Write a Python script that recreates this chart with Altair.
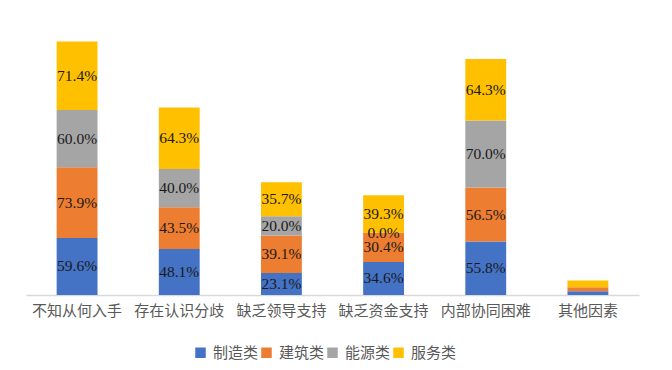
import altair as alt
import pandas as pd

categories = ["不知从何入手", "存在认识分歧", "缺乏领导支持", "缺乏资金支持", "内部协同困难", "其他因素"]
series = ["制造类", "建筑类", "能源类", "服务类"]
colors = ["#4472C4", "#ED7D31", "#A5A5A5", "#FFC000"]
manufacturing = [59.6, 48.1, 23.1, 34.6, 55.8, 3.8]
construction = [73.9, 43.5, 39.1, 30.4, 56.5, 4.3]
energy = [60.0, 40.0, 20.0, 0.0, 70.0, 0.0]
service = [71.4, 64.3, 35.7, 39.3, 64.3, 7.1]
show_label = [True, True, True, True, True, False]

rows = []
for si, (name, vals) in enumerate(zip(series, [manufacturing, construction, energy, service])):
    for ci, cat in enumerate(categories):
        rows.append({"cat": cat, "series": name, "order": si, "value": vals[ci],
                     "show": show_label[ci], "label": f"{vals[ci]:.1f}%"})
df = pd.DataFrame(rows)

base = alt.Chart(df).transform_stack(
    stack="value", as_=["y0", "y1"], groupby=["cat"],
    sort=[alt.SortField("order", order="ascending")]
).transform_calculate(mid="(datum.y0 + datum.y1) / 2")

xenc = alt.X("cat:N", sort=categories, title=None,
             scale=alt.Scale(paddingInner=0.6, paddingOuter=0.3),
             axis=alt.Axis(labelAngle=0, labelFontSize=15, labelColor="#595959",
                           labelFont="Noto Sans CJK SC", labelPadding=8, ticks=False,
                           domainColor="#D9D9D9", domainWidth=1.5, labelOverlap=False,
                           labelLimit=200))
yscale = alt.Scale(domain=[0, 300], nice=False)

bars = base.mark_bar().encode(
    x=xenc,
    y=alt.Y("y0:Q", scale=yscale, axis=None),
    y2="y1:Q",
    color=alt.Color("series:N", sort=series,
                    scale=alt.Scale(domain=series, range=colors),
                    legend=alt.Legend(title=None, orient="none", direction="horizontal",
                                      legendX=167, legendY=337, padding=0,
                                      labelFontSize=15, labelColor="#595959",
                                      labelFont="Noto Sans CJK SC", symbolType="square",
                                      symbolSize=110, symbolStrokeWidth=0,
                                      columnPadding=-8, labelOffset=5)),
)

texts = base.transform_filter("datum.show").mark_text(
    font="Liberation Serif", fontSize=15.5, color="#1a1a1a", baseline="middle"
).encode(
    x=alt.X("cat:N", sort=categories),
    y=alt.Y("mid:Q", scale=yscale),
    text="label:N",
)

chart = alt.layer(bars, texts).properties(
    width=613, height=287,
    padding={"left": 18, "top": 0, "right": 10, "bottom": 0},
).configure_view(stroke=None)

chart.save("out.html", embed_options={"renderer": "svg", "actions": False})
